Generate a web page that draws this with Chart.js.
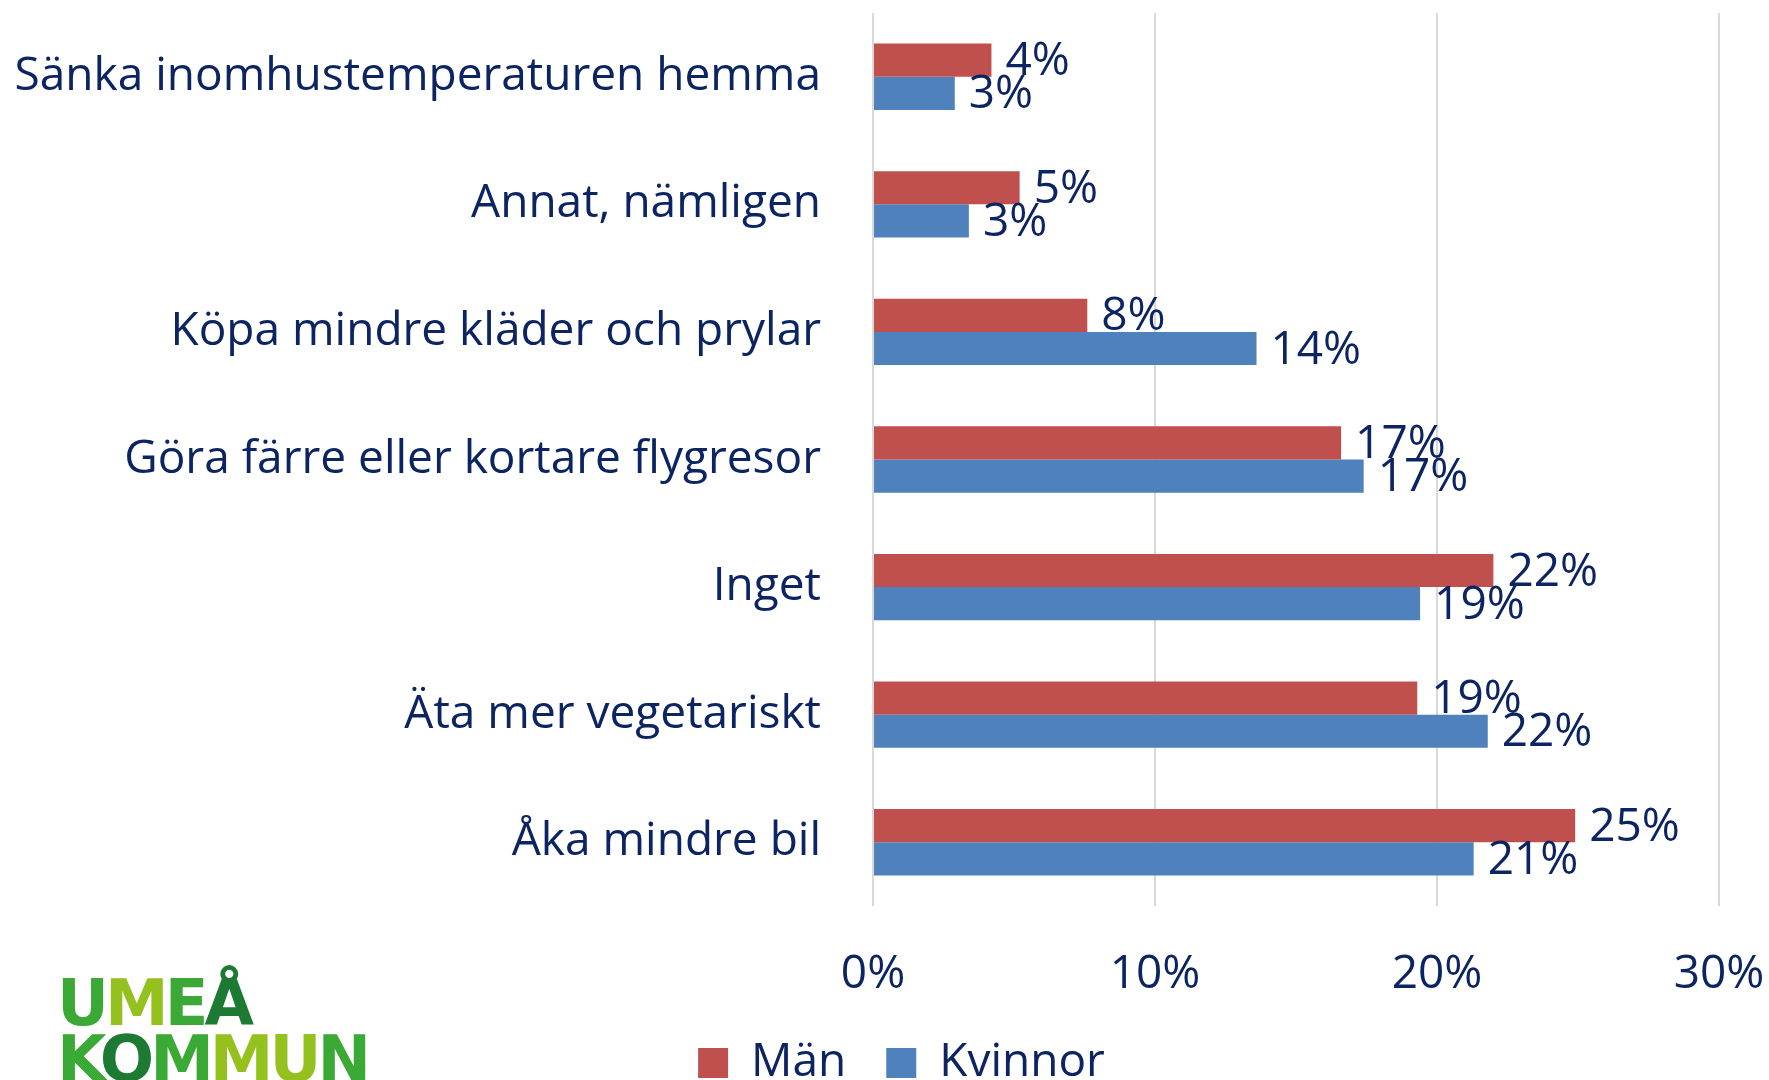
<!DOCTYPE html>
<html>
<head>
<meta charset="utf-8">
<script src="https://cdn.jsdelivr.net/npm/chart.js@4"></script>
<style>
    html, body { margin: 0; padding: 0; background: #fff; overflow: hidden; }
    #wrap { position: relative; width: 1769px; height: 1080px; overflow: hidden; }
    #chart { position: absolute; left: 0; top: 0; }
    .logo { position: absolute; left: 57px; font-family: "DejaVu Sans", sans-serif; font-weight: bold;
            font-size: 64px; line-height: 1; white-space: nowrap; letter-spacing: -4px; }
    .g1 { color: #3aa935; }
    .g2 { color: #95c11f; }
    .g3 { color: #1d7a32; }
</style>
</head>
<body>
<div id="wrap">
    <canvas id="chart" width="1769" height="1096"></canvas>
    <div class="logo" style="top: 971px;"><span class="g1">U</span><span class="g2">M</span><span class="g1">E</span><span class="g3">Å</span></div>
    <div class="logo" style="top: 1027px;"><span class="g1">K</span><span class="g3">O</span><span class="g1">M</span><span class="g2">M</span><span class="g2">U</span><span class="g1">N</span></div>
</div>
<script>
// Data (percent)
const categories = [
    'Sänka inomhustemperaturen hemma',
    'Annat, nämligen',
    'Köpa mindre kläder och prylar',
    'Göra färre eller kortare flygresor',
    'Inget',
    'Äta mer vegetariskt',
    'Åka mindre bil'
];
const manValues = [4.2, 5.2, 7.6, 16.6, 22.0, 19.3, 24.9];
const kvinnorValues = [2.9, 3.4, 13.6, 17.4, 19.4, 21.8, 21.3];
const seriesNames = ['Män', 'Kvinnor'];
const xTicks = [0, 10, 20, 30];

const textColor = '#0c2461';
const fontFamily = '"Open Sans", "Noto Sans", sans-serif';
const fontSize = 46;

// Etiketter till höger om staplarna
const barLabels = {
    id: 'barLabels',
    afterDatasetsDraw(chart) {
        const ctx = chart.ctx;
        ctx.save();
        ctx.font = fontSize + 'px ' + fontFamily;
        ctx.fillStyle = textColor;
        ctx.textAlign = 'left';
        ctx.textBaseline = 'middle';
        chart.data.datasets.forEach((ds, i) => {
            const meta = chart.getDatasetMeta(i);
            meta.data.forEach((bar, j) => {
                ctx.fillText(Math.round(ds.data[j]) + '%', bar.x + 14, bar.y + 2);
            });
        });
        ctx.restore();
    }
};

// Flyttar förklaringen lite åt höger
const legendShift = {
    id: 'legendShift',
    afterLayout(chart) {
        chart.legend.left += 42;
        chart.legend.right += 42;
    }
};

const ctx = document.getElementById('chart').getContext('2d');
new Chart(ctx, {
    type: 'bar',
    data: {
        labels: categories,
        datasets: [
            { label: seriesNames[0], data: manValues, backgroundColor: '#c0504d' },
            { label: seriesNames[1], data: kvinnorValues, backgroundColor: '#4f81bd' }
        ]
    },
    options: {
        indexAxis: 'y',
        responsive: false,
        animation: false,
        devicePixelRatio: 1,
        datasets: {
            bar: { categoryPercentage: 0.52, barPercentage: 1 }
        },
        layout: { padding: { top: 13, left: 0, right: 50, bottom: 0 } },
        scales: {
            x: {
                min: 0,
                max: 30,
                afterBuildTicks: (scale) => { scale.ticks = xTicks.map(v => ({ value: v })); },
                afterFit: (scale) => {
                    scale.height = 94;
                    scale.paddingLeft = 0;
                    scale.paddingRight = 0;
                },
                grid: { color: '#d9d9d9', lineWidth: 2, drawTicks: false },
                border: { display: false },
                ticks: {
                    padding: 41,
                    maxRotation: 0,
                    color: textColor,
                    font: { family: fontFamily, size: fontSize },
                    callback: (v) => v + '%'
                }
            },
            y: {
                afterFit: (scale) => {
                    scale.width = 873;
                    scale.paddingTop = 0;
                    scale.paddingBottom = 0;
                },
                grid: { display: false, drawTicks: false },
                border: { display: false },
                ticks: {
                    padding: 52,
                    color: textColor,
                    font: { family: fontFamily, size: fontSize }
                }
            }
        },
        plugins: {
            legend: {
                position: 'bottom',
                labels: {
                    boxWidth: 30,
                    boxHeight: 30,
                    padding: 40,
                    color: textColor,
                    font: { family: fontFamily, size: fontSize }
                }
            },
            tooltip: { enabled: false }
        }
    },
    plugins: [barLabels, legendShift]
});
</script>
</body>
</html>
